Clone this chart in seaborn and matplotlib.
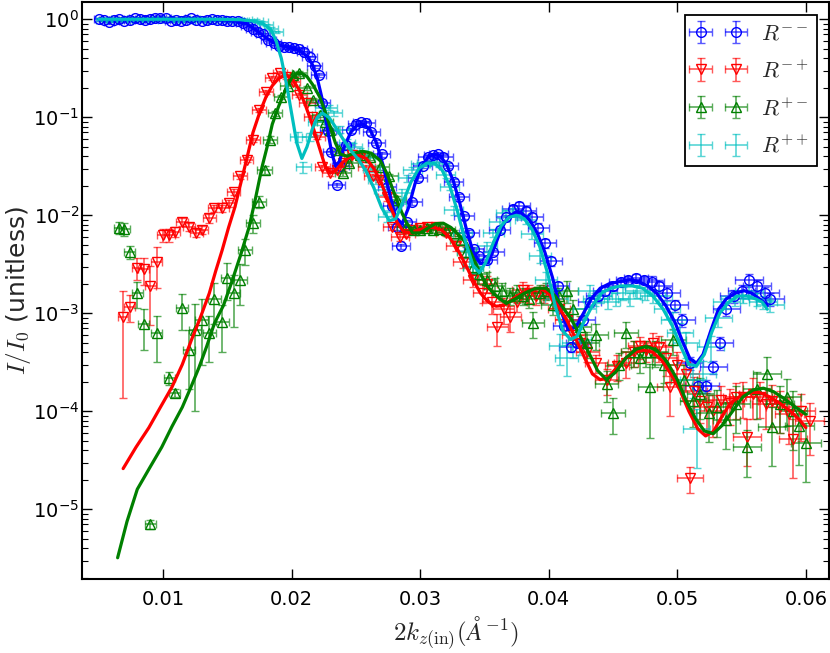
import numpy as np
import matplotlib
matplotlib.use('Agg')
import matplotlib.pyplot as plt
from matplotlib.ticker import FuncFormatter, LogLocator, NullLocator
import seaborn as sns

# =============================================================================
#  Data (x = 2k_z(in) in 1/A, y = I/I0)
# =============================================================================

# R-- (blue circles)
bx = [0.0050, 0.0054, 0.0058, 0.0062, 0.0066, 0.0070, 0.0074, 0.0078, 0.0082, 0.0086,
      0.0090, 0.0094, 0.0098, 0.0102, 0.0106, 0.0110, 0.0114, 0.0118, 0.0122, 0.0126,
      0.0130, 0.0134, 0.0138, 0.0142, 0.0146, 0.0150, 0.0154, 0.0158, 0.0162, 0.0166,
      0.0170, 0.0174, 0.0178, 0.0182, 0.0186, 0.0190, 0.0194, 0.0198, 0.0202, 0.0206,
      0.0210, 0.0214, 0.0218, 0.0221, 0.0224, 0.0228, 0.0231, 0.0235, 0.0238, 0.0242,
      0.0246, 0.0250, 0.0254, 0.0258, 0.0262, 0.0266, 0.0270, 0.0274, 0.0278, 0.0282,
      0.0285, 0.0290, 0.0294, 0.0298, 0.0302, 0.0306, 0.0310, 0.0314, 0.0318, 0.0322,
      0.0326, 0.0330, 0.0334, 0.0338, 0.0342, 0.0346, 0.0352, 0.0357, 0.0362, 0.0367,
      0.0372, 0.0377, 0.0382, 0.0387, 0.0392, 0.0397, 0.0402, 0.0407, 0.0412, 0.0417,
      0.0422, 0.0427, 0.0432, 0.0438, 0.0444, 0.0450, 0.0456, 0.0462, 0.0468, 0.0474,
      0.0480, 0.0486, 0.0492, 0.0498, 0.0504, 0.0510, 0.0516, 0.0522, 0.0528, 0.0533,
      0.0538, 0.0544, 0.0550, 0.0556, 0.0562, 0.0568, 0.0572]
by = [1.00, 0.98, 0.93, 0.99, 1.00, 0.97, 0.99, 1.02, 1.00, 0.98,
      1.00, 1.03, 1.04, 1.02, 0.97, 0.98, 0.96, 0.99, 1.02, 0.98,
      0.97, 0.99, 1.01, 0.98, 0.99, 0.97, 0.96, 0.95, 0.92, 0.86,
      0.80, 0.74, 0.70, 0.62, 0.57, 0.53, 0.52, 0.52, 0.51, 0.50,
      0.46, 0.41, 0.33, 0.27, 0.14, 0.072, 0.044, 0.0204, 0.032, 0.052,
      0.074, 0.086, 0.089, 0.087, 0.070, 0.055, 0.042, 0.0195, 0.0125, 0.0076,
      0.0048, 0.0085, 0.0135, 0.024, 0.032, 0.039, 0.041, 0.042, 0.039, 0.032,
      0.022, 0.0155, 0.0098, 0.0066, 0.0045, 0.0038, 0.0035, 0.0042, 0.0070, 0.0095,
      0.0115, 0.0125, 0.0110, 0.0095, 0.0075, 0.0052, 0.0034, 0.0019, 0.00075, 0.00045,
      0.00050, 0.00085, 0.0013, 0.0015, 0.0017, 0.0019, 0.0021, 0.0022, 0.0023, 0.0022,
      0.0021, 0.0019, 0.0016, 0.0012, 0.00085, 0.00031, 0.00018, 0.00018, 0.00028, 0.00050,
      0.0011, 0.0015, 0.0017, 0.0022, 0.0019, 0.0016, 0.0014]
# relative y errors
be = [0.03] * 30 + [0.04] * 20 + [0.06] * 30 + [0.1] * 20 + [0.15] * 17

# R-+ (red down triangles)
rx = [0.0069, 0.0074, 0.0080, 0.0085, 0.0090, 0.0095, 0.0100, 0.0105, 0.0109, 0.0115,
      0.0120, 0.0126, 0.0130, 0.0136, 0.0140, 0.0146, 0.0151, 0.0155, 0.0160, 0.0165,
      0.0170, 0.0175, 0.0180, 0.0185, 0.0191, 0.0196, 0.0201, 0.0206, 0.0212, 0.0216,
      0.0220, 0.0224, 0.0230, 0.0235, 0.0240, 0.0247, 0.0253, 0.0258, 0.0263, 0.0268,
      0.0274, 0.0278, 0.0284, 0.0289, 0.0294, 0.0300, 0.0305, 0.0312, 0.0320, 0.0328,
      0.0333, 0.0341, 0.0349, 0.0352, 0.0356, 0.0360, 0.0365, 0.0370, 0.0375, 0.0380,
      0.0385, 0.0390, 0.0396, 0.0403, 0.0408, 0.0414, 0.0419, 0.0424, 0.0430, 0.0437,
      0.0445, 0.0453, 0.0460, 0.0466, 0.0471, 0.0476, 0.0481, 0.0486, 0.0491, 0.0494,
      0.0500, 0.0507, 0.0510, 0.0513, 0.0518, 0.0523, 0.0528, 0.0534, 0.0541, 0.0546,
      0.0551, 0.0554, 0.0559, 0.0564, 0.0569, 0.0574, 0.0580, 0.0587, 0.0590, 0.0596,
      0.0603]
ry = [0.00091, 0.00117, 0.0029, 0.0028, 0.0019, 0.0033, 0.0063, 0.0063, 0.0068, 0.0086,
      0.0076, 0.0066, 0.0071, 0.0093, 0.0118, 0.0118, 0.0133, 0.0173, 0.025, 0.037,
      0.059, 0.118, 0.18, 0.25, 0.28, 0.26, 0.23, 0.168, 0.14, 0.10,
      0.063, 0.031, 0.027, 0.029, 0.034, 0.041, 0.038, 0.031, 0.025, 0.023,
      0.0153, 0.0076, 0.0060, 0.0065, 0.0071, 0.0074, 0.0076, 0.0076, 0.0066, 0.0048,
      0.0033, 0.0022, 0.0016, 0.0020, 0.0013, 0.00072, 0.0011, 0.00091, 0.0013, 0.00173,
      0.0016, 0.0015, 0.0016, 0.0014, 0.0011, 0.00085, 0.00060, 0.00050, 0.00040, 0.00031,
      0.00021, 0.00029, 0.00031, 0.00040, 0.00046, 0.00042, 0.00050, 0.00045, 0.00035, 0.000177,
      0.00030, 0.00024, 0.000021, 0.00016, 0.000127, 0.00011, 0.00010, 0.00013, 0.000121, 0.00014,
      0.000141, 0.000055, 0.00015, 0.000141, 0.00012, 0.000127, 0.00011, 0.000093, 0.000052, 0.00010,
      0.000079]
re = [0.85, 0.3, 0.25, 0.3, 0.6, 0.45, 0.15, 0.15, 0.12, 0.1,
      0.1, 0.1, 0.1, 0.1, 0.08, 0.08, 0.08, 0.06, 0.06, 0.05,
      0.05, 0.05, 0.05, 0.05, 0.05, 0.05, 0.05, 0.05, 0.05, 0.05,
      0.05, 0.06, 0.06, 0.06, 0.06, 0.06, 0.06, 0.06, 0.06, 0.06,
      0.08, 0.08, 0.08, 0.08, 0.08, 0.08, 0.08, 0.08, 0.08, 0.1,
      0.12, 0.15, 0.2, 0.2, 0.25, 0.35, 0.3, 0.3, 0.2, 0.2,
      0.2, 0.2, 0.2, 0.2, 0.2, 0.2, 0.2, 0.2, 0.2, 0.2,
      0.3, 0.3, 0.3, 0.3, 0.25, 0.25, 0.25, 0.3, 0.35, 0.5,
      0.35, 0.35, 0.3, 0.4, 0.4, 0.45, 0.45, 0.4, 0.4, 0.4,
      0.4, 0.5, 0.45, 0.4, 0.45, 0.45, 0.45, 0.5, 0.6, 0.5,
      0.55]

# R+- (green up triangles)
gx = [0.0066, 0.0070, 0.0074, 0.0080, 0.0085, 0.0090, 0.0095, 0.0105, 0.0109, 0.0115,
      0.0120, 0.0125, 0.0130, 0.0136, 0.0140, 0.0146, 0.0150, 0.0155, 0.0160, 0.0164,
      0.0170, 0.0175, 0.0179, 0.0183, 0.0187, 0.0192, 0.0197, 0.0201, 0.0206, 0.0212,
      0.0217, 0.0222, 0.0226, 0.0230, 0.0237, 0.0240, 0.0245, 0.0253, 0.0261, 0.0269,
      0.0276, 0.0282, 0.0289, 0.0295, 0.0300, 0.0305, 0.0310, 0.0315, 0.0320, 0.0326,
      0.0331, 0.0336, 0.0341, 0.0346, 0.0352, 0.0358, 0.0364, 0.0370, 0.0375, 0.0380,
      0.0385, 0.0388, 0.0393, 0.0398, 0.0403, 0.0408, 0.0414, 0.0419, 0.0424, 0.0430,
      0.0437, 0.0445, 0.0450, 0.0455, 0.0460, 0.0466, 0.0471, 0.0476, 0.0479, 0.0483,
      0.0490, 0.0497, 0.0505, 0.0512, 0.0518, 0.0525, 0.0531, 0.0538, 0.0546, 0.0554,
      0.0562, 0.0570, 0.0574, 0.0580, 0.0585, 0.0590, 0.0595, 0.0600]
gy = [0.0075, 0.0072, 0.0042, 0.0016, 0.00077, 0.000007, 0.00063, 0.00022, 0.000155, 0.00112,
      0.00042, 0.00067, 0.00085, 0.00063, 0.0014, 0.00081, 0.0023, 0.0016, 0.0022, 0.0044,
      0.0083, 0.0138, 0.029, 0.059, 0.11, 0.16, 0.21, 0.27, 0.28, 0.20,
      0.15, 0.106, 0.090, 0.074, 0.046, 0.027, 0.034, 0.041, 0.039, 0.031,
      0.025, 0.0144, 0.0076, 0.0071, 0.0071, 0.0075, 0.0071, 0.0073, 0.0071, 0.0066,
      0.0056, 0.0042, 0.0030, 0.0025, 0.0022, 0.0019, 0.0017, 0.0015, 0.0016, 0.0015,
      0.0014, 0.0008, 0.0016, 0.0017, 0.0012, 0.0015, 0.0017, 0.0011, 0.00072, 0.00050,
      0.00060, 0.00019, 0.000097, 0.00030, 0.00063, 0.00040, 0.00035, 0.00040, 0.000177, 0.00040,
      0.00030, 0.00053, 0.00021, 0.000127, 0.00015, 0.000097, 0.00011, 0.000082, 0.00012, 0.000043,
      0.000167, 0.00024, 0.000069, 0.00012, 0.000141, 0.00010, 0.000070, 0.000047]
ge = [0.15, 0.15, 0.15, 0.3, 0.45, 0.1, 0.5, 0.15, 0.1, 0.4,
      0.6, 0.85, 0.65, 0.5, 0.45, 0.5, 0.4, 0.55, 0.45, 0.3,
      0.2, 0.15, 0.1, 0.08, 0.06, 0.05, 0.05, 0.05, 0.05, 0.05,
      0.05, 0.05, 0.05, 0.05, 0.06, 0.06, 0.06, 0.06, 0.06, 0.06,
      0.06, 0.08, 0.08, 0.08, 0.08, 0.08, 0.08, 0.08, 0.08, 0.08,
      0.1, 0.12, 0.15, 0.2, 0.2, 0.2, 0.2, 0.2, 0.2, 0.2,
      0.2, 0.3, 0.2, 0.2, 0.2, 0.2, 0.25, 0.25, 0.3, 0.3,
      0.3, 0.35, 0.4, 0.3, 0.3, 0.3, 0.3, 0.3, 0.7, 0.3,
      0.35, 0.3, 0.4, 0.45, 0.45, 0.5, 0.5, 0.5, 0.5, 0.5,
      0.5, 0.5, 0.6, 0.5, 0.5, 0.6, 0.6, 0.6]

# R++ (cyan, error bars only)
cx = [0.0052, 0.0056, 0.0060, 0.0064, 0.0068, 0.0072, 0.0076, 0.0080, 0.0084, 0.0088,
      0.0092, 0.0096, 0.0100, 0.0104, 0.0108, 0.0112, 0.0116, 0.0120, 0.0124, 0.0128,
      0.0132, 0.0136, 0.0140, 0.0144, 0.0148, 0.0152, 0.0156, 0.0160, 0.0164, 0.0168,
      0.0172, 0.0176, 0.0180, 0.0184, 0.0188, 0.0205, 0.0209, 0.0214, 0.0219, 0.0224,
      0.0229, 0.0233, 0.0238, 0.0243, 0.0248, 0.0253, 0.0258, 0.0262, 0.0266, 0.0271,
      0.0274, 0.0278, 0.0282, 0.0286, 0.0290, 0.0294, 0.0300, 0.0305, 0.0310, 0.0315,
      0.0320, 0.0323, 0.0326, 0.0333, 0.0336, 0.0341, 0.0346, 0.0352, 0.0357, 0.0362,
      0.0367, 0.0372, 0.0377, 0.0382, 0.0387, 0.0393, 0.0398, 0.0403, 0.0406, 0.0409,
      0.0414, 0.0419, 0.0424, 0.0428, 0.0432, 0.0436, 0.0440, 0.0446, 0.0452, 0.0458,
      0.0463, 0.0469, 0.0475, 0.0481, 0.0486, 0.0492, 0.0497, 0.0502, 0.0507, 0.0512,
      0.0515, 0.0520, 0.0526, 0.0532, 0.0538, 0.0545, 0.0551, 0.0556, 0.0562, 0.0567,
      0.0572]
cy = [0.99, 1.00, 0.98, 1.00, 1.01, 0.99, 1.00, 0.98, 1.00, 1.01,
      0.99, 1.00, 1.02, 1.00, 0.99, 1.01, 1.00, 0.98, 1.00, 0.99,
      1.00, 0.99, 0.98, 1.00, 0.99, 0.98, 0.99, 0.97, 0.98, 0.96,
      0.97, 0.93, 0.87, 0.80, 0.74, 0.063, 0.031, 0.063, 0.090, 0.124,
      0.125, 0.110, 0.075, 0.055, 0.050, 0.045, 0.038, 0.030, 0.023, 0.018,
      0.0097, 0.011, 0.013, 0.0168, 0.024, 0.029, 0.033, 0.034, 0.035, 0.033,
      0.026, 0.0195, 0.0113, 0.0066, 0.0043, 0.0030, 0.0032, 0.0048, 0.0066, 0.0086,
      0.0106, 0.0110, 0.0101, 0.0090, 0.0065, 0.0038, 0.0022, 0.0016, 0.0014, 0.00046,
      0.00035, 0.00050, 0.00053, 0.0011, 0.0017, 0.0014, 0.0015, 0.0013, 0.0014, 0.0016,
      0.0014, 0.0017, 0.0016, 0.0015, 0.0015, 0.0011, 0.00085, 0.00063, 0.00050, 0.00021,
      0.000066, 0.00024, 0.00045, 0.00090, 0.0013, 0.0014, 0.0015, 0.0017, 0.0014, 0.0013,
      0.0012]
ce = [0.03] * 35 + [0.12, 0.12, 0.1, 0.08, 0.06,
      0.06, 0.06, 0.08, 0.08, 0.08, 0.08, 0.08, 0.08, 0.1, 0.1,
      0.12, 0.1, 0.1, 0.1, 0.08, 0.08, 0.06, 0.06, 0.06, 0.06,
      0.08, 0.08, 0.1, 0.12, 0.15, 0.15, 0.15, 0.12, 0.1, 0.1,
      0.08, 0.08, 0.08, 0.1, 0.12, 0.15, 0.2, 0.25, 0.25, 0.35,
      0.35, 0.3, 0.3, 0.2, 0.15, 0.15, 0.15, 0.15, 0.15, 0.15,
      0.15, 0.15, 0.15, 0.15, 0.15, 0.2, 0.2, 0.25, 0.3, 0.35,
      0.6, 0.35, 0.3, 0.2, 0.15, 0.15, 0.15, 0.15, 0.15, 0.15,
      0.15]

# fitted curves
fit_bx = [0.0050, 0.0080, 0.0110, 0.0140, 0.0155, 0.0165, 0.0172, 0.0178, 0.0184, 0.0190,
          0.0196, 0.0202, 0.0207, 0.0212, 0.0216, 0.0220, 0.0224, 0.0228, 0.0231, 0.0234,
          0.0237, 0.0241, 0.0246, 0.0251, 0.0256, 0.0261, 0.0266, 0.0271, 0.0276, 0.0281,
          0.0286, 0.0291, 0.0296, 0.0301, 0.0306, 0.0311, 0.0316, 0.0321, 0.0326, 0.0331,
          0.0336, 0.0341, 0.0347, 0.0353, 0.0358, 0.0363, 0.0368, 0.0374, 0.0379, 0.0385,
          0.0391, 0.0397, 0.0403, 0.0409, 0.0415, 0.0421, 0.0427, 0.0433, 0.0440, 0.0447,
          0.0455, 0.0463, 0.0470, 0.0477, 0.0484, 0.0491, 0.0498, 0.0504, 0.0510, 0.0515,
          0.0520, 0.0526, 0.0532, 0.0538, 0.0545, 0.0552, 0.0558, 0.0564, 0.0570]
fit_by = [1.0, 1.0, 1.0, 0.99, 0.97, 0.9, 0.78, 0.68, 0.6, 0.55,
          0.52, 0.5, 0.47, 0.42, 0.35, 0.25, 0.15, 0.075, 0.045, 0.032,
          0.035, 0.05, 0.07, 0.083, 0.085, 0.075, 0.055, 0.033, 0.017, 0.0095,
          0.0082, 0.012, 0.021, 0.031, 0.039, 0.042, 0.04, 0.032, 0.022, 0.013,
          0.0072, 0.0043, 0.0032, 0.0033, 0.0048, 0.0072, 0.0094, 0.0107, 0.0105, 0.009,
          0.0066, 0.0042, 0.0023, 0.0011, 0.00068, 0.00072, 0.001, 0.0014, 0.0018, 0.0020,
          0.0021, 0.0022, 0.0021, 0.0019, 0.0016, 0.0012, 0.00082, 0.00052, 0.00034, 0.00031,
          0.00038, 0.00066, 0.0011, 0.0014, 0.0016, 0.0017, 0.0016, 0.0014, 0.0012]

fit_rx = [0.0069, 0.0079, 0.0089, 0.0098, 0.0107, 0.0115, 0.0122, 0.0129, 0.0136, 0.0141,
          0.0146, 0.0151, 0.0156, 0.0160, 0.0165, 0.0170, 0.0175, 0.0180, 0.0185, 0.0190,
          0.0196, 0.0201, 0.0206, 0.0211, 0.0216, 0.0221, 0.0226, 0.0230, 0.0235, 0.0240,
          0.0246, 0.0252, 0.0258, 0.0264, 0.0270, 0.0276, 0.0282, 0.0287, 0.0293, 0.0299,
          0.0305, 0.0311, 0.0317, 0.0323, 0.0329, 0.0335, 0.0341, 0.0347, 0.0353, 0.0359,
          0.0365, 0.0372, 0.0379, 0.0386, 0.0393, 0.0400, 0.0407, 0.0414, 0.0421, 0.0428,
          0.0434, 0.0440, 0.0446, 0.0453, 0.0460, 0.0467, 0.0474, 0.0481, 0.0488, 0.0495,
          0.0502, 0.0509, 0.0516, 0.0522, 0.0528, 0.0534, 0.0541, 0.0548, 0.0556, 0.0564,
          0.0572, 0.0580, 0.0588, 0.0595, 0.0600]
fit_ry = [2.6e-5, 4.3e-5, 6.8e-5, 1.1e-4, 1.77e-4, 3.0e-4, 5.3e-4, 9.0e-4, 0.0016, 0.0027,
          0.0044, 0.0075, 0.0122, 0.020, 0.037, 0.070, 0.11, 0.16, 0.21, 0.25,
          0.27, 0.24, 0.19, 0.13, 0.085, 0.052, 0.032, 0.027, 0.029, 0.035,
          0.040, 0.041, 0.038, 0.030, 0.021, 0.013, 0.0085, 0.0068, 0.0066, 0.0071,
          0.0075, 0.0075, 0.0070, 0.0059, 0.0045, 0.0032, 0.0022, 0.0016, 0.0013, 0.00118,
          0.0012, 0.0014, 0.0016, 0.00175, 0.0018, 0.0016, 0.0012, 0.00085, 0.00055, 0.00035,
          0.00024, 0.00021, 0.00022, 0.00028, 0.00035, 0.00040, 0.00042, 0.00040, 0.00033, 0.00024,
          0.000165, 0.00010, 6.6e-5, 5.6e-5, 6.2e-5, 8.5e-5, 0.00012, 0.00014, 0.000155, 0.000155,
          0.00014, 0.00012, 0.00010, 8.2e-5, 6.8e-5]

fit_gx = [0.00647, 0.0072, 0.0080, 0.0090, 0.0099, 0.0107, 0.0115, 0.0122, 0.0128, 0.0134,
          0.0140, 0.0147, 0.0153, 0.0160, 0.0167, 0.0172, 0.0177, 0.0181, 0.0185, 0.0190,
          0.0196, 0.0200, 0.0204, 0.0208, 0.0212, 0.0217, 0.0222, 0.0226, 0.0230, 0.0234,
          0.0238, 0.0243, 0.0249, 0.0255, 0.0262, 0.0269, 0.0274, 0.0279, 0.0284, 0.0289,
          0.0294, 0.0300, 0.0306, 0.0312, 0.0318, 0.0324, 0.0330, 0.0336, 0.0342, 0.0347,
          0.0352, 0.0357, 0.0362, 0.0367, 0.0374, 0.0381, 0.0390, 0.0398, 0.0405, 0.0412,
          0.0418, 0.0424, 0.0431, 0.0438, 0.0445, 0.0452, 0.0460, 0.0468, 0.0476, 0.0484,
          0.0492, 0.0500, 0.0507, 0.0514, 0.0521, 0.0528, 0.0535, 0.0543, 0.0551, 0.0559,
          0.0567, 0.0575, 0.0583, 0.0592, 0.0600]
fit_gy = [3.2e-6, 7.5e-6, 1.6e-5, 2.7e-5, 4.3e-5, 7.0e-5, 1.1e-4, 1.8e-4, 2.8e-4, 4.6e-4,
          7.9e-4, 0.0012, 0.0020, 0.0038, 0.0076, 0.015, 0.031, 0.050, 0.085, 0.13,
          0.20, 0.25, 0.28, 0.28, 0.26, 0.21, 0.16, 0.115, 0.080, 0.055,
          0.042, 0.040, 0.043, 0.045, 0.043, 0.036, 0.027, 0.018, 0.012, 0.0086,
          0.0066, 0.0066, 0.0074, 0.0082, 0.0083, 0.0075, 0.0063, 0.0052, 0.0035, 0.0025,
          0.0019, 0.0016, 0.0014, 0.00126, 0.0014, 0.0016, 0.0018, 0.0018, 0.0015, 0.0011,
          0.00085, 0.00060, 0.00040, 0.00026, 0.00021, 0.00025, 0.00035, 0.00043, 0.00046, 0.00042,
          0.00032, 0.00021, 0.000127, 8.5e-5, 6.3e-5, 5.9e-5, 7.2e-5, 0.00010, 0.00014, 0.000165,
          0.000172, 0.000158, 0.000135, 0.00011, 9.3e-5]

fit_cx = [0.0050, 0.0080, 0.0110, 0.0140, 0.0160, 0.0170, 0.0178, 0.0184, 0.0188, 0.0192,
          0.0196, 0.0200, 0.0204, 0.0208, 0.0212, 0.0216, 0.0220, 0.0224, 0.0229, 0.0234,
          0.0240, 0.0246, 0.0252, 0.0258, 0.0264, 0.0270, 0.0276, 0.0281, 0.0287, 0.0293,
          0.0299, 0.0305, 0.0311, 0.0317, 0.0323, 0.0329, 0.0335, 0.0341, 0.0346, 0.0351,
          0.0357, 0.0363, 0.0369, 0.0375, 0.0381, 0.0387, 0.0393, 0.0399, 0.0405, 0.0411,
          0.0417, 0.0422, 0.0428, 0.0434, 0.0441, 0.0448, 0.0456, 0.0465, 0.0473, 0.0481,
          0.0489, 0.0496, 0.0503, 0.0509, 0.0515, 0.0521, 0.0527, 0.0533, 0.0540, 0.0547,
          0.0554, 0.0561, 0.0566, 0.0570]
fit_cy = [1.0, 1.0, 1.0, 1.0, 0.99, 0.96, 0.9, 0.78, 0.6, 0.4,
          0.22, 0.11, 0.055, 0.038, 0.05, 0.075, 0.1, 0.11, 0.1, 0.08,
          0.06, 0.046, 0.037, 0.028, 0.019, 0.012, 0.0088, 0.0092, 0.014, 0.022,
          0.030, 0.034, 0.034, 0.029, 0.020, 0.011, 0.0055, 0.0031, 0.0026, 0.0033,
          0.0053, 0.0078, 0.0095, 0.0100, 0.0092, 0.0072, 0.0048, 0.0026, 0.0012, 0.00066,
          0.00054, 0.00058, 0.00085, 0.0012, 0.0016, 0.0018, 0.0019, 0.0019, 0.0018, 0.0015,
          0.0011, 0.00075, 0.00045, 0.00030, 0.00029, 0.00038, 0.00065, 0.0010, 0.0013, 0.0015,
          0.0015, 0.0014, 0.0013, 0.0011]

# instrument resolution used for the horizontal bars: dq = dq0 + dq_rel * q
dq0 = 0.0003
dq_rel = 0.014

labels = [r'$R^{--}$', r'$R^{-+}$', r'$R^{+-}$', r'$R^{++}$']
colors = ['#0000ff', '#ff0000', '#008000', '#00bfbf']
markers = ['o', 'v', '^', 'none']
xticks = [0.01, 0.02, 0.03, 0.04, 0.05, 0.06]

# =============================================================================
#  Plot
# =============================================================================

sns.set_style('ticks')
plt.rcParams['font.family'] = ['DejaVu Sans']
plt.rcParams['mathtext.fontset'] = 'cm'

fig = plt.figure(figsize=(8.3, 6.53), dpi=100)
ax = fig.add_axes([0.0988, 0.1129, 0.9, 0.8836])
ax.set_yscale('log')

data = [(bx, by, be), (rx, ry, re), (gx, gy, ge), (cx, cy, ce)]
for (x, y, rel), lab, col, mk in zip(data, labels, colors, markers):
    x = np.array(x)
    y = np.array(y)
    dx = dq0 + dq_rel * x
    dy = np.array(rel) * y
    eb = ax.errorbar(x, y, xerr=dx, yerr=dy, fmt=mk, color=col, mfc='none',
                     mec=col, ms=7, mew=1.0, elinewidth=1.2, capsize=3,
                     capthick=1.2, label=lab, zorder=2)
    for cap in eb[1]:
        cap.set_alpha(0.65)
    for bar in eb[2]:
        bar.set_alpha(0.65)

fits = [(fit_bx, fit_by), (fit_rx, fit_ry), (fit_gx, fit_gy), (fit_cx, fit_cy)]
for (fx, fy), col in zip(fits, colors):
    sns.lineplot(x=fx, y=fy, color=col, lw=2.3, ax=ax, sort=False,
                 estimator=None, legend=False, zorder=3)

ax.set_xlim(0.0037, 0.0618)
ax.set_ylim(1.93e-6, 1.49)
ax.set_xticks(xticks)
ax.set_xticklabels(['%.2f' % t for t in xticks])
ax.xaxis.set_minor_locator(NullLocator())
ax.yaxis.set_major_locator(LogLocator(base=10))
ax.yaxis.set_minor_locator(LogLocator(base=10, subs=np.arange(2, 10)))
ax.yaxis.set_major_formatter(
    FuncFormatter(lambda v, p: r'$\mathregular{10^{%d}}$' % round(np.log10(v))))

ax.tick_params(which='both', direction='in', top=True, right=True, colors='k')
ax.tick_params(which='major', length=7, width=1, labelsize=14)
ax.tick_params(axis='x', which='major', pad=8)
ax.tick_params(axis='y', which='major', pad=2)
ax.tick_params(which='minor', length=4, width=0.8)
for sp in ax.spines.values():
    sp.set_linewidth(1.5)
    sp.set_color('k')

ax.set_xlabel(r'$2k_{z(\mathrm{in})}(\AA^{-1})$', fontsize=18)
ax.set_ylabel(r'$I/I_0$ (unitless)', fontsize=18)
ax.yaxis.set_label_coords(-0.066, 0.5)

handles, labs = ax.get_legend_handles_labels()
leg = ax.legend(handles[:4], labs[:4], loc='upper right', numpoints=2,
                fontsize=16, fancybox=False, framealpha=1, edgecolor='k',
                borderaxespad=0.55, handlelength=2.2, labelspacing=0.7)
leg.get_frame().set_linewidth(1.3)

fig.savefig('out.png', dpi=100, facecolor='white')
